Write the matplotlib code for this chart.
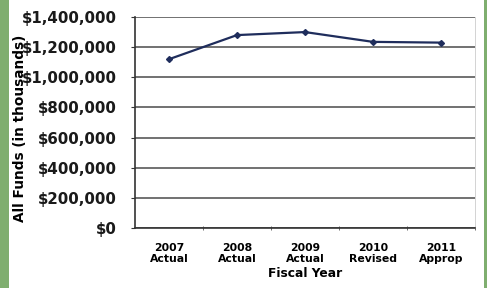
import matplotlib
matplotlib.use("Agg")
import matplotlib.pyplot as plt
from matplotlib.ticker import FuncFormatter, MultipleLocator, FixedLocator
import matplotlib.patches as mpatches

categories = ["2007\nActual", "2008\nActual", "2009\nActual", "2010\nRevised", "2011\nApprop"]
values = [1120000, 1280000, 1300000, 1235000, 1230000]

plt.rcParams['font.family'] = ['DejaVu Sans']

fig = plt.figure(figsize=(4.87, 2.88), dpi=100)
fig.patch.set_facecolor('white')

# green frame stripes
fig.patches.append(mpatches.Rectangle((0, 0), 9/487, 1, transform=fig.transFigure,
                                      facecolor='#7fae6f', edgecolor='none', zorder=0))
fig.patches.append(mpatches.Rectangle((484/487, 0), 3/487, 1, transform=fig.transFigure,
                                      facecolor='#7fae6f', edgecolor='none', zorder=0))

ax = fig.add_axes([135/487, 1-228/288, 340/487, 211/288])
x = list(range(len(categories)))
ax.plot(x, values, color='#1f2d5c', lw=1.6, marker='D', markersize=3, zorder=3)

ax.set_xlim(-0.5, len(categories)-0.5)
ax.set_ylim(0, 1400000)
ax.yaxis.set_major_locator(MultipleLocator(200000))
ax.yaxis.set_major_formatter(FuncFormatter(lambda v, p: f"${v:,.0f}"))
ax.grid(axis='y', color='#4a4a4a', lw=1.1)
ax.set_axisbelow(True)

ax.set_xticks(x)
ax.set_xticklabels(categories, fontsize=7.8, fontweight='bold', linespacing=1.1)
ax.xaxis.set_minor_locator(FixedLocator([i + 0.5 for i in range(len(categories))]))
ax.tick_params(axis='x', which='major', length=0, pad=11)
ax.tick_params(axis='x', which='minor', length=3, direction='inout', color='#555555')
ax.tick_params(axis='y', labelsize=10.8, length=3, direction='out', pad=10, colors='#333333', labelcolor='#1a1a1a')
for lab in ax.get_yticklabels():
    lab.set_fontweight('bold')

ax.spines['top'].set_visible(False)
ax.spines['right'].set_color('#cccccc')
ax.spines['right'].set_linewidth(0.6)
ax.spines['left'].set_color('#333333')
ax.spines['left'].set_linewidth(1.2)
ax.spines['bottom'].set_color('#333333')
ax.spines['bottom'].set_linewidth(1.2)

ax.set_xlabel("Fiscal Year", fontsize=8.8, fontweight='bold', labelpad=2)
fig.text(20/487, 1-128/288, "All Funds (in thousands)", rotation=90, fontsize=9.8,
         fontweight='bold', ha='center', va='center')

fig.savefig("out.png", dpi=100)
